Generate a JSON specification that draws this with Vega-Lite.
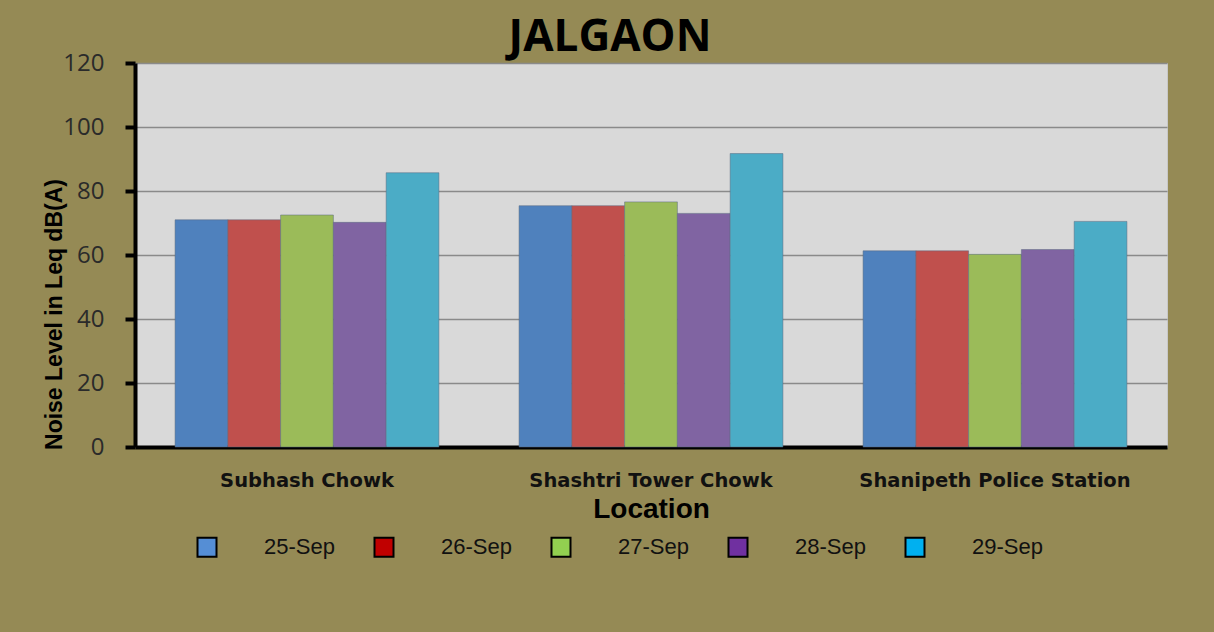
{
  "$schema": "https://vega.github.io/schema/vega-lite/v6.json",
  "width": 1032,
  "height": 384,
  "autosize": {"type": "none"},
  "padding": {"left": 135, "top": 63, "right": 47, "bottom": 185},
  "background": "#958A55",
  "title": {
    "text": "JALGAON",
    "font": "Open Sans",
    "fontSize": 44,
    "fontWeight": "bold",
    "color": "#000000",
    "anchor": "middle",
    "dx": -41,
    "offset": -9
  },
  "data": {
    "values": [
      {"location": "Subhash Chowk", "date": "25-Sep", "leq": 71},
      {"location": "Subhash Chowk", "date": "26-Sep", "leq": 71},
      {"location": "Subhash Chowk", "date": "27-Sep", "leq": 72.5},
      {"location": "Subhash Chowk", "date": "28-Sep", "leq": 70.2},
      {"location": "Subhash Chowk", "date": "29-Sep", "leq": 85.7},
      {"location": "Shashtri Tower Chowk", "date": "25-Sep", "leq": 75.4},
      {"location": "Shashtri Tower Chowk", "date": "26-Sep", "leq": 75.4},
      {"location": "Shashtri Tower Chowk", "date": "27-Sep", "leq": 76.6},
      {"location": "Shashtri Tower Chowk", "date": "28-Sep", "leq": 73},
      {"location": "Shashtri Tower Chowk", "date": "29-Sep", "leq": 91.7},
      {"location": "Shanipeth Police Station", "date": "25-Sep", "leq": 61.3},
      {"location": "Shanipeth Police Station", "date": "26-Sep", "leq": 61.3},
      {"location": "Shanipeth Police Station", "date": "27-Sep", "leq": 60.2},
      {"location": "Shanipeth Police Station", "date": "28-Sep", "leq": 61.7},
      {"location": "Shanipeth Police Station", "date": "29-Sep", "leq": 70.5}
    ]
  },
  "encoding": {
    "x": {
      "field": "location",
      "type": "nominal",
      "sort": ["Subhash Chowk", "Shashtri Tower Chowk", "Shanipeth Police Station"],
      "scale": {"paddingInner": 0.233, "paddingOuter": 0.1165},
      "axis": {
        "title": "Location",
        "labelAngle": 0,
        "labelLimit": 0,
        "labelFont": "DejaVu Sans",
        "labelFontSize": 19.5,
        "labelFontWeight": "bold",
        "labelColor": "#111111",
        "labelPadding": 24,
        "ticks": false,
        "domainColor": "#000000",
        "domainWidth": 4,
        "titleFont": "Liberation Sans",
        "titleFontSize": 28,
        "titleFontWeight": "bold",
        "titleColor": "#000000",
        "titlePadding": 6
      }
    },
    "xOffset": {
      "field": "date",
      "type": "nominal",
      "scale": {"paddingInner": 0, "paddingOuter": 0}
    },
    "y": {
      "field": "leq",
      "type": "quantitative",
      "scale": {"domain": [0, 120], "nice": false},
      "axis": {
        "title": "Noise Level in Leq dB(A)",
        "values": [0, 20, 40, 60, 80, 100, 120],
        "labelFont": "Open Sans",
        "labelFontSize": 24,
        "labelColor": "#2a2a2a",
        "labelPadding": 21,
        "tickColor": "#000000",
        "tickWidth": 4,
        "tickSize": 10,
        "domainColor": "#000000",
        "domainWidth": 4,
        "grid": true,
        "gridColor": "#8a8a8a",
        "gridWidth": 1.5,
        "titleFont": "Liberation Sans",
        "titleFontSize": 23,
        "titleFontWeight": "bold",
        "titleColor": "#000000",
        "titleBaseline": "middle",
        "titleX": -81,
        "titleY": 251
      }
    }
  },
  "layer": [
    {
      "mark": {"type": "bar", "strokeWidth": 1, "stroke": "#5a6a80", "strokeOpacity": 0.5},
      "encoding": {
        "color": {
          "field": "date",
          "type": "nominal",
          "scale": {"range": ["#4F81BD", "#C0504D", "#9BBB59", "#8064A2", "#4BACC6"]},
          "legend": null
        }
      }
    },
    {
      "mark": {"type": "square", "filled": true, "opacity": 0},
      "encoding": {
        "color": {
          "field": "date",
          "type": "nominal",
          "scale": {"range": ["#558ED5", "#C00000", "#92D050", "#7030A0", "#00B0F0"]},
          "legend": {
            "title": null,
            "orient": "none",
            "legendX": 61,
            "legendY": 473,
            "direction": "horizontal",
            "symbolType": "square",
            "symbolSize": 361,
            "symbolOpacity": 1,
            "symbolStrokeColor": "#000000",
            "symbolStrokeWidth": 2,
            "labelFont": "Liberation Sans",
            "labelFontSize": 22,
            "labelColor": "#111111",
            "labelOffset": 46,
            "columnPadding": 35
          }
        }
      }
    }
  ],
  "resolve": {"scale": {"color": "independent"}},
  "config": {
    "view": {"fill": "#D9D9D9", "stroke": "#c8c8c8"}
  }
}
